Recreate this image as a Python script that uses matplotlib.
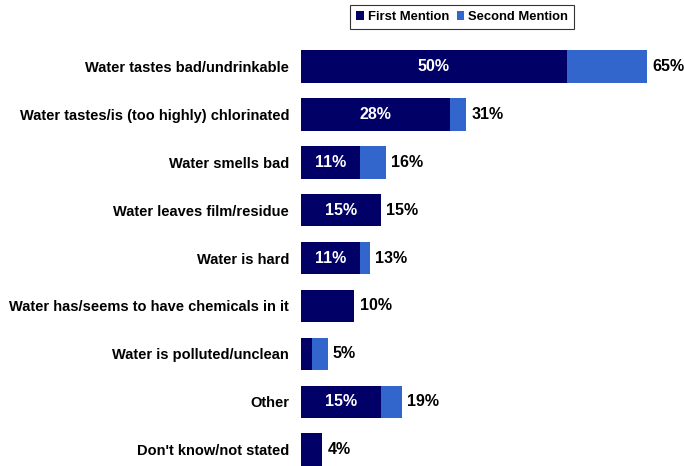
import matplotlib
matplotlib.use('Agg')

import matplotlib.pyplot as plt
import numpy as np

# categories and values (percent)
categories = ['Water tastes bad/undrinkable',
              'Water tastes/is (too highly) chlorinated',
              'Water smells bad',
              'Water leaves film/residue',
              'Water is hard',
              'Water has/seems to have chemicals in it',
              'Water is polluted/unclean',
              'Other',
              "Don't know/not stated"]
first_mention = [50, 28, 11, 15, 11, 10, 2, 15, 4]
second_mention = [15, 3, 5, 0, 2, 0, 3, 4, 0]
totals = [65, 31, 16, 15, 13, 10, 5, 19, 4]
inside_labels = ['50%', '28%', '11%', '15%', '11%', '', '', '15%', '']

NAVY = '#000066'
BLUE = '#3366CC'

plt.rcParams['font.family'] = ['Liberation Sans', 'DejaVu Sans']

fig = plt.figure(figsize=(6.84, 4.66), dpi=100)
ax = fig.add_axes([301 / 684, 0.0, 383 / 684, 1 - 42 / 466])

y = np.arange(len(categories))
ax.barh(y, first_mention, height=0.68, color=NAVY, label='First Mention')
ax.barh(y, second_mention, left=first_mention, height=0.68, color=BLUE,
        label='Second Mention')

for i in range(len(categories)):
    if inside_labels[i]:
        ax.text(first_mention[i] / 2, y[i], inside_labels[i], color='white',
                ha='center', va='center', fontsize=11.5, fontweight='bold')
    ax.text(totals[i] + 1, y[i], '%d%%' % totals[i], color='black',
            ha='left', va='center', fontsize=11.5, fontweight='bold')

ax.set_xlim(0, 72)
ax.set_ylim(8.34, -0.51)
ax.set_yticks(y)
ax.set_yticklabels(categories, fontsize=10.5, fontweight='bold')
ax.tick_params(axis='y', length=0, pad=8.6)
ax.set_xticks([])
for s in ax.spines.values():
    s.set_visible(False)

leg = fig.legend(loc='center', bbox_to_anchor=(462 / 684, 1 - 17 / 466),
                 ncol=2, fontsize=9.4, frameon=True, fancybox=False,
                 edgecolor='black', handlelength=0.6, handleheight=0.6,
                 handletextpad=0.3, columnspacing=0.6, borderpad=0.45,
                 borderaxespad=0)
leg.get_frame().set_linewidth(0.8)
for t in leg.get_texts():
    t.set_fontweight('bold')

plt.savefig('out.png', dpi=100)
